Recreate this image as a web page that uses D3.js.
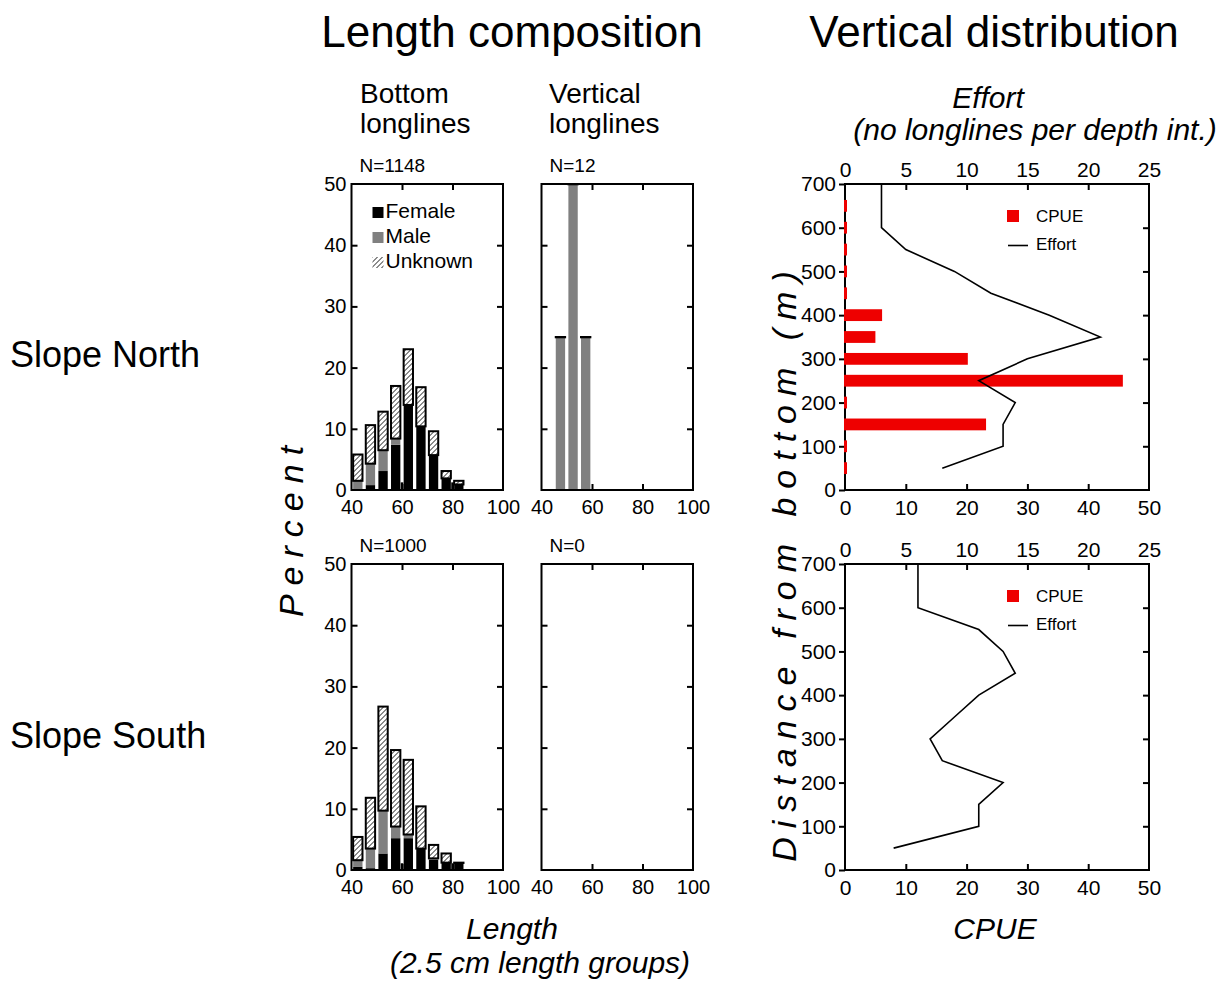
<!DOCTYPE html>
<html>
<head>
<meta charset="utf-8">
<script src="https://cdn.jsdelivr.net/npm/d3@7"></script>
<style>
  body { margin: 0; background: white; }
  text { font-family: "Liberation Sans", Arial, sans-serif; fill: black; }
</style>
</head>
<body>
<div id="chart"></div>
<script>
// length groups (bar centres, cm)
const lengthBins = [42.5, 47.5, 52.5, 57.5, 62.5, 67.5, 72.5, 77.5, 82.5];

// Slope North, bottom longlines (percent)
const northBottomFemale  = [0.0, 0.8, 3.1, 7.4, 13.9, 10.4, 5.7, 1.9, 0.9];
const northBottomMale    = [1.5, 3.5, 3.4, 1.0, 0.0, 0.0, 0.0, 0.0, 0.0];
const northBottomUnknown = [4.3, 6.3, 6.3, 8.6, 9.1, 6.4, 3.9, 1.2, 0.6];

// Slope North, vertical longlines
const northVertFemale  = [0, 0, 0, 0, 0, 0, 0, 0, 0];
const northVertMale    = [0, 25, 50, 25, 0, 0, 0, 0, 0];
const northVertUnknown = [0, 0, 0, 0, 0, 0, 0, 0, 0];

// Slope South, bottom longlines
const southBottomFemale  = [0.5, 0.3, 2.7, 5.2, 5.2, 3.5, 1.7, 1.2, 1.2];
const southBottomMale    = [1.1, 3.2, 7.0, 1.9, 0.6, 0.0, 0.2, 0.0, 0.0];
const southBottomUnknown = [3.8, 8.3, 17.0, 12.5, 12.2, 6.9, 2.2, 1.5, 0.0];

// Slope South, vertical longlines (N=0)
const southVertFemale  = [0, 0, 0, 0, 0, 0, 0, 0, 0];
const southVertMale    = [0, 0, 0, 0, 0, 0, 0, 0, 0];
const southVertUnknown = [0, 0, 0, 0, 0, 0, 0, 0, 0];

// narrow extra bars at whole lengths
const sliverLengths = [60, 80];
const northSliver = [1.25, 1.25];
const southSliver = [1.1, 1.1];

const histXTicks = [40, 60, 80, 100];
const histYTicks = [0, 10, 20, 30, 40, 50];

// vertical distribution
const effortDepths = [50, 100, 150, 200, 250, 300, 350, 400, 450, 500, 550, 600, 650, 700];
const northEffort = [8.0, 13.0, 13.0, 14.0, 11.0, 15.0, 21.0, 16.8, 12.0, 9.0, 5.0, 3.0, 3.0, 3.0];
const southEffort = [4.0, 11.0, 11.0, 13.0, 8.0, 7.0, 9.0, 11.0, 14.0, 13.0, 11.0, 6.0, 6.0, 6.0];

const cpueDepths = [50, 100, 150, 200, 250, 300, 350, 400, 450, 500, 550, 600, 650];
const northCpue = [0, 0, 23.2, 0, 45.7, 20.2, 5.0, 6.1, 0, 0, 0, 0, 0];
const southCpue = [];

const depthTicks = [0, 100, 200, 300, 400, 500, 600, 700];
const cpueTicks = [0, 10, 20, 30, 40, 50];
const effortTicks = [0, 5, 10, 15, 20, 25];

const W = 1231, H = 983;
const rowTop = [184, 564];
const plotH = 306;
const histLeft = [351.5, 541.5];
const histW = 151.5;
const vertLeft = 845, vertW = 304;

const svg = d3.select("#chart").append("svg")
    .attr("width", W)
    .attr("height", H);

const defs = svg.append("defs");
const pat = defs.append("pattern")
    .attr("id", "hatch")
    .attr("patternUnits", "userSpaceOnUse")
    .attr("width", 5)
    .attr("height", 5);
pat.append("rect").attr("width", 5).attr("height", 5).attr("fill", "white");
pat.append("path")
    .attr("d", "M-1,1 l2,-2 M0,5 l5,-5 M4,6 l2,-2")
    .attr("stroke", "black")
    .attr("stroke-width", 0.9);

function frame(g, w, h) {
    g.append("rect")
        .attr("width", w)
        .attr("height", h)
        .attr("fill", "none")
        .attr("stroke", "black")
        .attr("stroke-width", 2);
}

function styleAxis(sel, size) {
    sel.select(".domain").remove();
    sel.selectAll(".tick line").attr("stroke", "black").attr("stroke-width", 2);
    sel.selectAll(".tick text")
        .attr("fill", "black")
        .style("font-size", size + "px")
        .style("font-family", "'Liberation Sans', Arial, sans-serif");
}

function drawHist(x0, y0, female, male, unknown, sliver, label, showY) {
    const g = svg.append("g").attr("transform", `translate(${x0},${y0})`);
    const x = d3.scaleLinear().domain([40, 100]).range([0, histW]);
    const y = d3.scaleLinear().domain([0, 50]).range([plotH, 0]);
    const bw = x(43.7) - x(40);

    const rows = lengthBins.map((b, i) => ({
        b: b, f: female[i], m: male[i], u: unknown[i]
    }));

    const bars = g.append("g");
    rows.forEach(d => {
        const total = d.f + d.m + d.u;
        if (total <= 0) return;
        const left = x(d.b) - bw / 2;
        if (d.f > 0) {
            bars.append("rect")
                .attr("x", left).attr("width", bw)
                .attr("y", y(d.f)).attr("height", y(0) - y(d.f))
                .attr("fill", "black");
        }
        if (d.m > 0) {
            bars.append("rect")
                .attr("x", left).attr("width", bw)
                .attr("y", y(d.f + d.m)).attr("height", y(d.f) - y(d.f + d.m))
                .attr("fill", "#808080");
        }
        bars.append("rect")
            .attr("x", left).attr("width", bw)
            .attr("y", y(total))
            .attr("height", Math.max(y(d.f + d.m) - y(total), 0.3))
            .attr("fill", "url(#hatch)")
            .attr("stroke", "black")
            .attr("stroke-width", 2);
    });

    if (sliver) {
        const sw = x(41) - x(40);
        sliverLengths.forEach((l, i) => {
            bars.append("rect")
                .attr("x", x(l) - sw / 2).attr("width", sw)
                .attr("y", y(sliver[i])).attr("height", y(0) - y(sliver[i]))
                .attr("fill", "black");
        });
    }

    frame(g, histW, plotH);

    const ax = g.append("g").attr("transform", `translate(0,${plotH})`)
        .call(d3.axisBottom(x).tickValues(histXTicks).tickSizeInner(-6).tickSizeOuter(0).tickPadding(10));
    styleAxis(ax, 20);
    ax.selectAll(".tick").filter(d => d === 40 || d === 100).select("line").remove();

    const axTop = g.append("g")
        .call(d3.axisTop(x).tickValues([60, 80]).tickSizeInner(-6).tickSizeOuter(0).tickFormat(""));
    styleAxis(axTop, 20);

    const ay = g.append("g")
        .call(d3.axisLeft(y).tickValues(histYTicks).tickSizeInner(-6).tickSizeOuter(0).tickPadding(5)
            .tickFormat(showY ? d3.format("d") : ""));
    styleAxis(ay, 20);
    ay.selectAll(".tick").filter(d => d === 0 || d === 50).select("line").remove();

    const ayr = g.append("g").attr("transform", `translate(${histW},0)`)
        .call(d3.axisRight(y).tickValues([10, 20, 30, 40]).tickSizeInner(-6).tickSizeOuter(0).tickFormat(""));
    styleAxis(ayr, 20);

    g.append("text")
        .attr("x", 8).attr("y", -12)
        .style("font-size", "19px")
        .text(label);
    return g;
}

function drawVert(x0, y0, effort, cpue) {
    const g = svg.append("g").attr("transform", `translate(${x0},${y0})`);
    const xc = d3.scaleLinear().domain([0, 50]).range([0, vertW]);
    const xe = d3.scaleLinear().domain([0, 25]).range([0, vertW]);
    const y = d3.scaleLinear().domain([0, 700]).range([plotH, 0]);

    frame(g, vertW, plotH);

    const ax = g.append("g").attr("transform", `translate(0,${plotH})`)
        .call(d3.axisBottom(xc).tickValues(cpueTicks).tickSizeInner(-6).tickSizeOuter(0).tickPadding(10));
    styleAxis(ax, 21);
    ax.selectAll(".tick").filter(d => d === 0 || d === 50).select("line").remove();

    const axTop = g.append("g")
        .call(d3.axisTop(xe).tickValues(effortTicks).tickSizeInner(-6).tickSizeOuter(0).tickPadding(7));
    styleAxis(axTop, 21);
    axTop.selectAll(".tick").filter(d => d === 0 || d === 25).select("line").remove();

    const ay = g.append("g")
        .call(d3.axisLeft(y).tickValues(depthTicks).tickSizeInner(6).tickSizeOuter(0).tickPadding(3));
    styleAxis(ay, 21);

    const ayr = g.append("g").attr("transform", `translate(${vertW},0)`)
        .call(d3.axisRight(y).tickValues(depthTicks.slice(1, -1)).tickSizeInner(-6).tickSizeOuter(0).tickFormat(""));
    styleAxis(ayr, 21);

    // CPUE bars
    const half = 13.5;
    g.append("g").selectAll("rect")
        .data(cpueDepths.map((d, i) => ({ d: d, v: cpue[i] })).filter(o => o.v !== undefined))
        .join("rect")
        .attr("x", xc(0) - 1)
        .attr("width", o => Math.max(xc(o.v) - xc(0) + 1, 3))
        .attr("y", o => y(o.d + half))
        .attr("height", o => y(o.d - half) - y(o.d + half))
        .attr("fill", "#ee0000");

    // Effort line
    const line = d3.line()
        .x(o => xe(o.v))
        .y(o => y(o.d));
    g.append("path")
        .datum(effortDepths.map((d, i) => ({ d: d, v: effort[i] })))
        .attr("d", line)
        .attr("fill", "none")
        .attr("stroke", "black")
        .attr("stroke-width", 1.6);

    // legend
    const lg = g.append("g").attr("transform", "translate(162,26)");
    lg.append("rect").attr("x", 0).attr("y", 0).attr("width", 12).attr("height", 12).attr("fill", "#ee0000");
    lg.append("text").attr("x", 29).attr("y", 12).style("font-size", "17px").text("CPUE");
    lg.append("line").attr("x1", 1).attr("x2", 21).attr("y1", 35.5).attr("y2", 35.5)
        .attr("stroke", "black").attr("stroke-width", 1.6);
    lg.append("text").attr("x", 29).attr("y", 40).style("font-size", "17px").text("Effort");
    return g;
}

// panels
const h1 = drawHist(histLeft[0], rowTop[0], northBottomFemale, northBottomMale, northBottomUnknown, northSliver, "N=1148", true);
drawHist(histLeft[1], rowTop[0], northVertFemale, northVertMale, northVertUnknown, null, "N=12", false);
drawHist(histLeft[0], rowTop[1], southBottomFemale, southBottomMale, southBottomUnknown, southSliver, "N=1000", true);
drawHist(histLeft[1], rowTop[1], southVertFemale, southVertMale, southVertUnknown, null, "N=0", false);

drawVert(vertLeft, rowTop[0], northEffort, northCpue);
drawVert(vertLeft, rowTop[1], southEffort, southCpue);

// sex legend in first histogram
const sexLegend = [
    { name: "Female", fill: "black" },
    { name: "Male", fill: "#808080" },
    { name: "Unknown", fill: "url(#hatch)" }
];
const leg = h1.append("g").attr("transform", "translate(21,23)");
sexLegend.forEach((s, i) => {
    leg.append("rect")
        .attr("x", 0).attr("y", i * 25)
        .attr("width", 11).attr("height", 11)
        .attr("fill", s.fill);
    leg.append("text")
        .attr("x", 13).attr("y", i * 25 + 11)
        .style("font-size", "21px")
        .text(s.name);
});

// titles and labels
function txt(x, y, s, size, opts = {}) {
    const t = svg.append("text")
        .attr("x", x).attr("y", y)
        .style("font-size", size + "px")
        .attr("text-anchor", opts.anchor || "start")
        .text(s);
    if (opts.italic) t.style("font-style", "italic");
    if (opts.spacing) t.style("letter-spacing", opts.spacing + "px");
    if (opts.rotate) t.attr("transform", `rotate(-90,${x},${y})`);
    return t;
}

txt(512, 47, "Length composition", 44, { anchor: "middle" });
txt(994, 47, "Vertical distribution", 44, { anchor: "middle" });

txt(360, 103, "Bottom", 28);
txt(360, 133, "longlines", 28);
txt(549, 103, "Vertical", 28);
txt(549, 133, "longlines", 28);

txt(10, 367, "Slope North", 36);
txt(10, 748, "Slope South", 36);

txt(988, 108, "Effort", 30, { anchor: "middle", italic: true });
txt(1035, 140, "(no longlines per depth int.)", 30, { anchor: "middle", italic: true });

txt(303, 527, "Percent", 34, { anchor: "middle", italic: true, spacing: 9, rotate: true });
txt(796, 562, "Distance from bottom (m)", 34, { anchor: "middle", italic: true, spacing: 9, rotate: true });

txt(512, 939, "Length", 30, { anchor: "middle", italic: true });
txt(540, 973, "(2.5 cm length groups)", 30, { anchor: "middle", italic: true });
txt(995, 939, "CPUE", 30, { anchor: "middle", italic: true });
</script>
</body>
</html>
